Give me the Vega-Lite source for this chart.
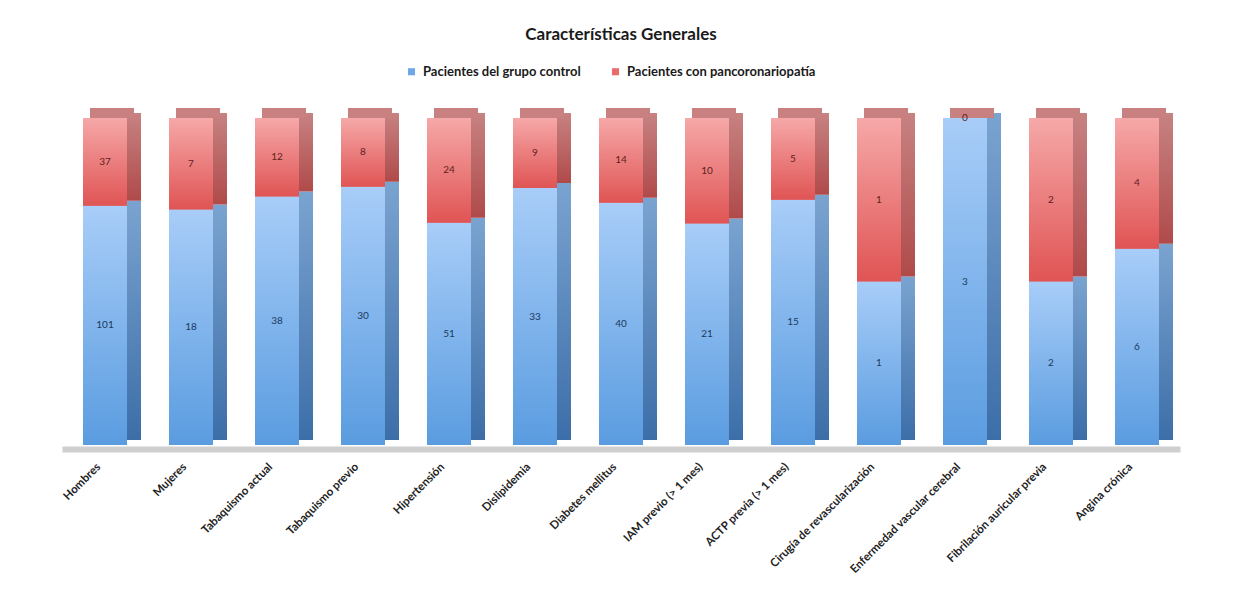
{
  "$schema": "https://vega.github.io/schema/vega-lite/v6.json",
  "width": 1118,
  "height": 327,
  "autosize": "none",
  "padding": {"left": 62, "top": 118, "right": 54, "bottom": 144},
  "background": "white",
  "config": {"view": {"stroke": null}, "font": "Lato"},
  "title": {"text": "Características Generales", "font": "Lato", "fontSize": 17, "fontWeight": "bold", "color": "#1a1a1a", "offset": 21, "anchor": "middle"},
  "data": {"values": [
    {"cat": "Hombres", "serie": "Pacientes del grupo control", "value": 101},
    {"cat": "Hombres", "serie": "Pacientes con pancoronariopatía", "value": 37},
    {"cat": "Mujeres", "serie": "Pacientes del grupo control", "value": 18},
    {"cat": "Mujeres", "serie": "Pacientes con pancoronariopatía", "value": 7},
    {"cat": "Tabaquismo actual", "serie": "Pacientes del grupo control", "value": 38},
    {"cat": "Tabaquismo actual", "serie": "Pacientes con pancoronariopatía", "value": 12},
    {"cat": "Tabaquismo previo", "serie": "Pacientes del grupo control", "value": 30},
    {"cat": "Tabaquismo previo", "serie": "Pacientes con pancoronariopatía", "value": 8},
    {"cat": "Hipertensión", "serie": "Pacientes del grupo control", "value": 51},
    {"cat": "Hipertensión", "serie": "Pacientes con pancoronariopatía", "value": 24},
    {"cat": "Dislipidemia", "serie": "Pacientes del grupo control", "value": 33},
    {"cat": "Dislipidemia", "serie": "Pacientes con pancoronariopatía", "value": 9},
    {"cat": "Diabetes mellitus", "serie": "Pacientes del grupo control", "value": 40},
    {"cat": "Diabetes mellitus", "serie": "Pacientes con pancoronariopatía", "value": 14},
    {"cat": "IAM previo (> 1 mes)", "serie": "Pacientes del grupo control", "value": 21},
    {"cat": "IAM previo (> 1 mes)", "serie": "Pacientes con pancoronariopatía", "value": 10},
    {"cat": "ACTP previa (> 1 mes)", "serie": "Pacientes del grupo control", "value": 15},
    {"cat": "ACTP previa (> 1 mes)", "serie": "Pacientes con pancoronariopatía", "value": 5},
    {"cat": "Cirugía de revascularización", "serie": "Pacientes del grupo control", "value": 1},
    {"cat": "Cirugía de revascularización", "serie": "Pacientes con pancoronariopatía", "value": 1},
    {"cat": "Enfermedad vascular cerebral", "serie": "Pacientes del grupo control", "value": 3},
    {"cat": "Enfermedad vascular cerebral", "serie": "Pacientes con pancoronariopatía", "value": 0},
    {"cat": "Fibrilación auricular previa", "serie": "Pacientes del grupo control", "value": 2},
    {"cat": "Fibrilación auricular previa", "serie": "Pacientes con pancoronariopatía", "value": 2},
    {"cat": "Angina crónica", "serie": "Pacientes del grupo control", "value": 6},
    {"cat": "Angina crónica", "serie": "Pacientes con pancoronariopatía", "value": 4}
  ]},
  "transform": [
    {"stack": "value", "groupby": ["cat"], "sort": [{"field": "serie", "order": "descending"}], "offset": "normalize", "as": ["y0", "y1"]},
    {"calculate": "(datum.y0 + datum.y1) / 2", "as": "ymid"}
  ],
  "encoding": {
    "x": {"field": "cat", "type": "nominal", "sort": null,
      "scale": {"paddingInner": 0.49, "paddingOuter": 0.245},
      "axis": {"title": null, "labelAngle": -45, "labelFont": "Lato", "labelFontWeight": "bold", "labelFontSize": 11.5, "labelColor": "#222222", "labelPadding": 16, "labelOffset": -6, "ticks": false, "domainColor": "#cfcfcf", "domainWidth": 6, "offset": 4, "labelAlign": "right", "labelBaseline": "middle", "labelLimit": 300}}
  },
  "layer": [
    {
      "transform": [{"filter": "datum.serie == 'Pacientes del grupo control'"}],
      "mark": {"type": "bar", "width": 14, "xOffset": 29, "yOffset": -5, "y2Offset": -5,
        "fill": {"gradient": "linear", "x1": 0, "y1": 0, "x2": 0, "y2": 1, "stops": [{"offset": 0, "color": "#7aa3d0"}, {"offset": 1, "color": "#3c6ea8"}]}},
      "encoding": {"y": {"field": "y0", "type": "quantitative", "scale": {"domain": [0, 1]}, "axis": null}, "y2": {"field": "y1"}}
    },
    {
      "transform": [{"filter": "datum.serie == 'Pacientes con pancoronariopatía'"}],
      "mark": {"type": "bar", "width": 14, "xOffset": 29, "yOffset": -5, "y2Offset": -5,
        "fill": {"gradient": "linear", "x1": 0, "y1": 0, "x2": 0, "y2": 1, "stops": [{"offset": 0, "color": "#c78282"}, {"offset": 1, "color": "#b04a4a"}]}},
      "encoding": {"y": {"field": "y0", "type": "quantitative"}, "y2": {"field": "y1"}}
    },
    {
      "transform": [{"filter": "datum.serie == 'Pacientes con pancoronariopatía'"}],
      "mark": {"type": "tick", "orient": "horizontal", "size": 44, "thickness": 10, "xOffset": 7, "yOffset": -5, "color": "#c98080", "opacity": 1},
      "encoding": {"y": {"field": "y1", "type": "quantitative"}}
    },
    {
      "mark": {"type": "bar", "width": 44},
      "encoding": {
        "y": {"field": "y0", "type": "quantitative"}, "y2": {"field": "y1"},
        "color": {"field": "serie", "type": "nominal",
          "scale": {"domain": ["Pacientes del grupo control", "Pacientes con pancoronariopatía"], "range": ["#6fa8e8", "#e86c6c"]},
          "legend": {"title": null, "orient": "none", "legendX": 343, "legendY": -53, "direction": "horizontal", "symbolType": "square", "symbolSize": 50, "labelFont": "Lato", "labelFontWeight": "bold", "labelFontSize": 13, "labelColor": "#1a1a1a", "columnPadding": 28, "labelOffset": 5, "labelLimit": 400}}
      }
    },
    {
      "transform": [{"filter": "datum.serie == 'Pacientes del grupo control'"}],
      "mark": {"type": "bar", "width": 44,
        "fill": {"gradient": "linear", "x1": 0, "y1": 0, "x2": 0, "y2": 1, "stops": [{"offset": 0, "color": "#a8cdf8"}, {"offset": 1, "color": "#5a9ce0"}]}},
      "encoding": {"y": {"field": "y0", "type": "quantitative"}, "y2": {"field": "y1"}}
    },
    {
      "transform": [{"filter": "datum.serie == 'Pacientes con pancoronariopatía'"}],
      "mark": {"type": "bar", "width": 44,
        "fill": {"gradient": "linear", "x1": 0, "y1": 0, "x2": 0, "y2": 1, "stops": [{"offset": 0, "color": "#f6a8a8"}, {"offset": 1, "color": "#e05454"}]}},
      "encoding": {"y": {"field": "y0", "type": "quantitative"}, "y2": {"field": "y1"}}
    },
    {
      "mark": {"type": "text", "font": "Lato", "fontSize": 10, "baseline": "middle"},
      "encoding": {
        "y": {"field": "ymid", "type": "quantitative"},
        "text": {"field": "value", "type": "quantitative"},
        "color": {"condition": {"test": "datum.serie == 'Pacientes del grupo control'", "value": "#1b3a60"}, "value": "#5e1e1e"}
      }
    }
  ]
}
